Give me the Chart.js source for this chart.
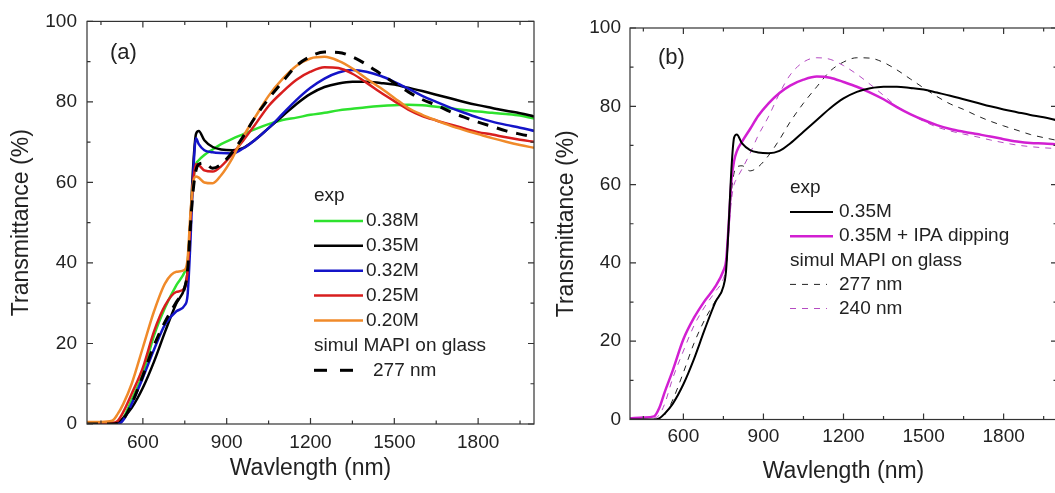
<!DOCTYPE html>
<html>
<head>
<meta charset="utf-8">
<script src="https://cdn.jsdelivr.net/npm/chart.js@4.4.1/dist/chart.umd.min.js"></script>
<style>
  html, body { margin: 0; padding: 0; background: #fff; overflow: hidden; width: 1055px; height: 493px; }
  canvas { position: absolute; top: 0; }
  #chartA { left: 0; }
  #chartB { left: 545px; }
</style>
</head>
<body>
<canvas id="chartA" width="545" height="493"></canvas>
<canvas id="chartB" width="515" height="493"></canvas>
<script>
// wavelength grid (nm) shared by all curves
const wavelengths = [400, 450, 490, 510, 530, 560, 600, 640, 680, 720,
  750, 760, 770, 780, 790, 800, 820, 850, 880, 920,
  960, 1000, 1050, 1100, 1150, 1200, 1250, 1300, 1350, 1400,
  1450, 1500, 1550, 1600, 1650, 1700, 1750, 1800, 1850, 1900,
  1950, 2000];

// transmittance (%) - experiment
const t038 = [0, 0, 0, 0.2, 1.5, 6, 12.5, 22, 29, 34.5,
  37.8, 40, 50, 60, 64.5, 65.5, 66.8, 68.2, 69.5, 70.8,
  72, 73.2, 74.5, 75.5, 76.1, 76.8, 77.3, 77.9, 78.3, 78.7,
  79, 79.2, 79.3, 79.2, 78.8, 78.4, 78, 77.6, 77.3, 77,
  76.6, 75.9];
const t035 = [0, 0, 0, 0.3, 1.5, 4, 9, 15.5, 23, 30,
  34, 38, 50, 64, 72, 72.8, 70.5, 68.8, 68.2, 68,
  68.6, 70.5, 73.5, 76.5, 79.5, 82, 83.7, 84.6, 85, 85,
  84.7, 84.3, 83.5, 82.7, 81.8, 80.9, 80, 79.2, 78.5, 77.8,
  77.2, 76.4];
const t032 = [0, 0, 0, 0, 1, 5, 11.5, 18.5, 24.8, 28,
  29.5, 32, 45, 62, 71, 69.5, 68, 67.5, 67.3, 67.2,
  68.5, 70.5, 73.5, 77, 80.5, 83.5, 85.8, 87.3, 87.9, 87.5,
  86.5, 85, 83.3, 81.5, 80, 78.6, 77.3, 76.1, 75.1, 74.3,
  73.6, 72.8];
const t025 = [0.3, 0.3, 0.3, 0.8, 3, 7.5, 14, 23, 29.5, 32.8,
  33.8, 38, 50, 60, 64.5, 64.3, 63, 62.7, 64, 67,
  70.5, 74.2, 79, 82.5, 85.5, 87.5, 88.6, 88.4, 87, 84.8,
  82.4, 80.2, 78.1, 76.5, 75.4, 74.4, 73.4, 72.5, 71.9, 71.2,
  70.6, 70.1];
const t020 = [0.5, 0.5, 0.8, 2.5, 5, 10, 19, 28, 35, 37.8,
  38.3, 41, 52, 60, 61.5, 61.2, 60, 59.8, 61.8, 66,
  71.5, 76, 81.5, 85.7, 89, 90.8, 91.2, 90.2, 88.3, 85.8,
  83.5, 81, 78.5, 76.8, 75.4, 74.1, 73, 72, 71, 70.1,
  69.3, 68.6];
const tIPA = [0.3, 0.5, 0.8, 3, 7, 12.5, 20.5, 26, 30.3, 34,
  38, 40.5, 50, 61, 66, 68.5, 71, 74.2, 77.5, 80.8,
  83.4, 85.3, 86.8, 87.6, 87.3, 86.2, 85, 83.5, 81.8, 79.8,
  78, 76.5, 75.2, 74.2, 73.5, 72.9, 72.3, 71.6, 71, 70.6,
  70.5, 70.3];

// transmittance (%) - simulation, MAPI on glass
const s277 = [0, 0, 0, 0.2, 1.2, 5, 12, 19.5, 25.5, 30.3,
  34, 38, 49, 58, 63, 64.5, 64.8, 63.5, 64.5, 67.5,
  71.5, 76, 80.8, 85, 89, 91.3, 92.4, 92.3, 91.2, 89.3,
  87, 84.7, 82.5, 80.6, 79.2, 77.6, 76.2, 75, 73.9, 72.8,
  72, 71.3];
const s240 = [0, 0, 0.3, 1.2, 4, 10.5, 17.5, 24, 28.8, 32.7,
  36, 39, 48, 56, 60, 61.5, 64, 68, 72.5, 77.5,
  83.3, 88, 91.3, 92.4, 92, 90.4, 88.2, 85.6, 82.8, 80,
  78, 76.2, 74.7, 73.7, 72.9, 72.2, 71.4, 70.7, 70.1, 69.7,
  69.4, 69.2];

// axis ticks
const xTickLabels = [600, 900, 1200, 1500, 1800];
const yTickLabels = [0, 20, 40, 60, 80, 100];

Chart.defaults.font.family = "'Liberation Sans', Arial, sans-serif";
Chart.defaults.color = '#222';

function pts(arr) {
  return wavelengths.map((w, i) => ({ x: w, y: arr[i] }));
}

function line(label, arr, color, width, dash) {
  return {
    label: label,
    data: pts(arr),
    borderColor: color,
    backgroundColor: color,
    borderWidth: width,
    borderDash: dash || [],
    pointRadius: 0,
    cubicInterpolationMode: 'monotone',
    fill: false
  };
}

// box frame with inward ticks on all four sides
const frameTicks = {
  id: 'frameTicks',
  afterDatasetsDraw(chart) {
    const { ctx, chartArea: a, scales: { x, y } } = chart;
    ctx.save();
    ctx.strokeStyle = '#333';
    ctx.lineWidth = 1.2;
    ctx.strokeRect(a.left, a.top, a.right - a.left, a.bottom - a.top);
    ctx.beginPath();
    const xs = [];
    for (let i = 0; i < xTickLabels.length; i++) {
      xs.push([xTickLabels[i], 6]);
      xs.push([xTickLabels[i] - 150, 3.5]);
    }
    xs.push([xTickLabels[xTickLabels.length - 1] + 150, 3.5]);
    xs.forEach(([v, len]) => {
      const px = x.getPixelForValue(v);
      ctx.moveTo(px, a.bottom); ctx.lineTo(px, a.bottom - len);
      ctx.moveTo(px, a.top); ctx.lineTo(px, a.top + len);
    });
    for (let i = 0; i < yTickLabels.length; i++) {
      const pairs = [[yTickLabels[i], 6]];
      if (i > 0) pairs.push([(yTickLabels[i] + yTickLabels[i - 1]) / 2, 3.5]);
      pairs.forEach(([v, len]) => {
        const py = y.getPixelForValue(v);
        ctx.moveTo(a.left, py); ctx.lineTo(a.left + len, py);
        ctx.moveTo(a.right, py); ctx.lineTo(a.right - len, py);
      });
    }
    ctx.stroke();
    ctx.restore();
  }
};

// legend with group headers + panel tag
const panelLegend = {
  id: 'panelLegend',
  afterDraw(chart, args, opts) {
    const ctx = chart.ctx;
    const sets = chart.data.datasets;
    ctx.save();
    ctx.font = '22px ' + Chart.defaults.font.family;
    ctx.fillStyle = '#222';
    ctx.textBaseline = 'middle';
    ctx.fillText(opts.tag, opts.tagX, opts.tagY);
    ctx.font = opts.fontSize + 'px ' + Chart.defaults.font.family;
    opts.items.forEach((it, i) => {
      const yy = opts.y + i * opts.rowH;
      if (typeof it === 'string') {
        ctx.fillStyle = '#222';
        ctx.fillText(it, opts.x, yy);
        return;
      }
      const ds = sets[it.ds];
      ctx.strokeStyle = ds.borderColor;
      ctx.lineWidth = ds.borderWidth;
      ctx.setLineDash(it.dash || ds.borderDash);
      ctx.beginPath();
      ctx.moveTo(opts.x, yy);
      ctx.lineTo(opts.x + (it.len || opts.lineLen), yy);
      ctx.stroke();
      ctx.setLineDash([]);
      ctx.fillStyle = '#222';
      ctx.fillText(ds.label, it.tx || opts.textX, yy);
    });
    ctx.restore();
  }
};

function makeOptions(box, legend) {
  return {
    responsive: false,
    animation: false,
    layout: { padding: { left: 0, right: box.right, top: box.top, bottom: 0 } },
    plugins: { legend: { display: false }, tooltip: { enabled: false }, panelLegend: legend },
    scales: {
      x: {
        type: 'linear', min: 400, max: 2000,
        afterBuildTicks: s => { s.ticks = xTickLabels.map(v => ({ value: v })); },
        afterFit: s => { s.height = box.xh; },
        grid: { display: false, drawTicks: false },
        border: { display: false },
        ticks: { font: { size: 19 }, padding: box.xpad, maxRotation: 0, callback: v => String(v) },
        title: { display: true, text: 'Wavlength (nm)', font: { size: 23 }, padding: { bottom: box.xtp } }
      },
      y: {
        min: 0, max: 100,
        afterBuildTicks: s => { s.ticks = yTickLabels.map(v => ({ value: v })); },
        afterFit: s => { s.width = box.yw; },
        grid: { display: false, drawTicks: false },
        border: { display: false },
        ticks: { font: { size: 19 }, padding: box.ypad, callback: v => String(v) },
        title: { display: true, text: 'Transmittance (%)', font: { size: 23 }, padding: { top: 8 } }
      }
    }
  };
}

// (a) concentration series
new Chart(document.getElementById('chartA'), {
  type: 'line',
  data: {
    datasets: [
      line('277 nm', s277, '#000000', 3, [11, 9]),
      line('0.20M', t020, '#f08a2a', 2.5),
      line('0.25M', t025, '#d81e1e', 2.5),
      line('0.32M', t032, '#1414c8', 2.5),
      line('0.35M', t035, '#000000', 2.5),
      line('0.38M', t038, '#2ee22e', 2.5)
    ]
  },
  options: makeOptions({ right: 11, top: 19.5, xh: 69, yw: 87, xpad: 7, xtp: 11, ypad: 10 }, {
    tag: '(a)', tagX: 110, tagY: 53, fontSize: 19,
    x: 314, y: 196, rowH: 24.9, lineLen: 49, textX: 366,
    items: ['exp', { ds: 5 }, { ds: 4 }, { ds: 3 }, { ds: 2 }, { ds: 1 },
      'simul MAPI on glass', { ds: 0, len: 39, tx: 373, dash: [13, 13] }]
  }),
  plugins: [frameTicks, panelLegend]
});

// (b) IPA dipping
new Chart(document.getElementById('chartB'), {
  type: 'line',
  data: {
    datasets: [
      line('0.35M', t035, '#000000', 2),
      line('0.35M + IPA dipping', tIPA, '#d21fd2', 2.5),
      line('277 nm', s277, '#222222', 1, [6, 6]),
      line('240 nm', s240, '#b54bc2', 1, [6, 6])
    ]
  },
  options: makeOptions({ right: 3, top: 28, xh: 73.5, yw: 85, xpad: 6, xtp: 8, ypad: 9 }, {
    tag: '(b)', tagX: 113, tagY: 58, fontSize: 19,
    x: 245, y: 188, rowH: 24.1, lineLen: 43, textX: 294,
    items: ['exp', { ds: 0 }, { ds: 1 }, 'simul MAPI on glass', { ds: 2, len: 37 }, { ds: 3, len: 37 }]
  }),
  plugins: [frameTicks, panelLegend]
});
</script>
</body>
</html>
